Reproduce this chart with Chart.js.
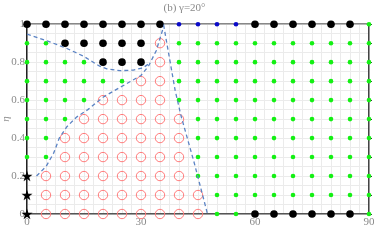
<!DOCTYPE html>
<html lang="en">
<head>
  <meta charset="UTF-8">
  <title>Phase diagram</title>
  <script src="https://cdn.jsdelivr.net/npm/chart.js"></script>
  <style>
    body { margin: 0; background: #fff; }
    canvas { display: block; }
  </style>
</head>
<body>
  <canvas id="phase" width="374" height="242"></canvas>

  <script>
    // angle values (columns) and eta values (rows)
    const angles = [0, 5, 10, 15, 20, 25, 30, 35, 40, 45, 50, 55, 60, 65, 70, 75, 80, 85, 90];
    const etas = [1.0, 0.9, 0.8, 0.7, 0.6, 0.5, 0.4, 0.3, 0.2, 0.1, 0.0];
    // K = black, B = blue, G = green, R = red circle, S = star
    const phaseRows = [
      'KKKKKKKKBBBBKKKKKKG',
      'GGKKKKKRGGGGGGGGGGG',
      'GGGGKKKRGGGGGGGGGGG',
      'GGGGGGRRGGGGGGGGGGG',
      'GGGGRRRRGGGGGGGGGGG',
      'GGGRRRRRRGGGGGGGGGG',
      'GGRRRRRRRGGGGGGGGGG',
      'GGRRRRRRRGGGGGGGGGG',
      'SRRRRRRRRGGGGGGGGGG',
      'SRRRRRRRRRGGGGGGGGG',
      'SRRRRRRRRRGGKKKKKKG'
    ];

    // dashed boundaries
    const upperX = [0, 6, 10.5, 15, 19, 21, 24.5, 28, 30.5, 32.3];
    const upperY = [0.948, 0.907, 0.872, 0.83, 0.78, 0.765, 0.755, 0.758, 0.77, 0.795];
    const lowerX = [2.5, 5, 7, 8.5, 10.5, 13, 16, 20, 23, 26.5, 30, 32, 34, 36, 39, 40.5, 44, 47.5];
    const lowerY = [0.2, 0.25, 0.32, 0.4, 0.46, 0.51, 0.55, 0.615, 0.65, 0.69, 0.73, 0.78, 0.86, 0.99, 0.65, 0.52, 0.27, 0];

    const groups = { K: [], B: [], G: [], R: [], S: [] };
    phaseRows.forEach((row, i) => {
      row.split('').forEach((c, j) => groups[c].push({ x: angles[j], y: etas[i] }));
    });

    const toPts = (xs, ys) => xs.map((x, i) => ({ x: x, y: ys[i] }));

    // filled five-point star for the left column
    const star = document.createElement('canvas');
    star.width = 12; star.height = 12;
    const sc = star.getContext('2d');
    sc.beginPath();
    for (let k = 0; k < 10; k++) {
      const r = k % 2 ? 2.3 : 5.8;
      const a = -Math.PI / 2 + k * Math.PI / 5;
      sc.lineTo(6 + r * Math.cos(a), 6.5 + r * Math.sin(a));
    }
    sc.closePath();
    sc.fillStyle = '#000';
    sc.fill();

    const serif = "'Liberation Serif', 'DejaVu Serif', serif";
    const grey = '#8a8a8a';

    const lineSet = (pts) => ({
      type: 'line', data: pts, borderColor: '#5b83c4', borderWidth: 1.3,
      borderDash: [4, 3], pointRadius: 0, fill: false, clip: false, tension: 0
    });
    const dotSet = (pts, opts) => Object.assign({ data: pts, clip: false, pointBorderWidth: 0 }, opts);

    new Chart(document.getElementById('phase'), {
      type: 'scatter',
      data: {
        datasets: [
          lineSet(toPts(upperX, upperY)),
          lineSet(toPts(lowerX, lowerY)),
          dotSet(groups.S, { pointStyle: star, pointRadius: 6 }),
          dotSet(groups.K, { pointRadius: 3.8, backgroundColor: '#000' }),
          dotSet(groups.B, { pointRadius: 2.3, backgroundColor: '#0a0ac8' }),
          dotSet(groups.G, { pointRadius: 2.3, backgroundColor: '#14f014' }),
          dotSet(groups.R, { pointRadius: 4.7, backgroundColor: 'rgba(0,0,0,0)', borderColor: '#ff7a7a', pointBorderWidth: 1, borderWidth: 1 })
        ]
      },
      options: {
        responsive: false,
        animation: false,
        layout: { padding: { right: 5 }, autoPadding: false },
        plugins: {
          legend: { display: false },
          tooltip: { enabled: false },
          title: {
            display: true, text: '(b) γ=20°', color: grey,
            font: { family: serif, size: 11, weight: 'normal' },
            padding: { top: 2, bottom: 9 }
          }
        },
        scales: {
          x: {
            type: 'linear', min: 0, max: 90,
            afterFit: s => { s.height = 28; s.paddingLeft = 0; s.paddingRight = 0; },
            grid: { color: '#ebebeb', drawTicks: false },
            border: { color: '#555', width: 1.5 },
            ticks: {
              stepSize: 2.5, autoSkip: false, maxRotation: 0, padding: 2, color: grey,
              font: { family: serif, size: 11 },
              callback: v => (Math.abs(v % 30) < 1e-6 ? String(v) : '')
            }
          },
          y: {
            type: 'linear', min: 0, max: 1,
            afterFit: s => { s.width = 27; s.paddingTop = 0; s.paddingBottom = 0; },
            grid: { color: '#ebebeb', drawTicks: false },
            border: { color: '#222', width: 1.5 },
            title: {
              display: true, text: 'η', color: grey, padding: 0,
              font: { family: serif, size: 11, style: 'italic' }
            },
            ticks: {
              stepSize: 0.05, autoSkip: false, padding: 2, color: grey,
              font: { family: serif, size: 11 },
              callback: v => {
                if (Math.abs(v * 5 - Math.round(v * 5)) > 1e-6) return '';
                const r = Math.round(v * 5) / 5;
                return r === 0 ? '0' : r === 1 ? '1' : r.toFixed(1);
              }
            }
          },
          x2: {
            type: 'linear', position: 'top', min: 0, max: 90,
            afterFit: s => { s.height = 0; },
            grid: { display: false },
            border: { color: '#888', width: 1.5 },
            ticks: { display: false }
          },
          y2: {
            type: 'linear', position: 'right', min: 0, max: 1,
            afterFit: s => { s.width = 0; },
            grid: { drawOnChartArea: false, drawTicks: true, tickLength: 3, color: '#333' },
            border: { color: '#444', width: 1.5 },
            ticks: { display: false, stepSize: 0.1 }
          }
        }
      }
    });
  </script>
</body>
</html>
